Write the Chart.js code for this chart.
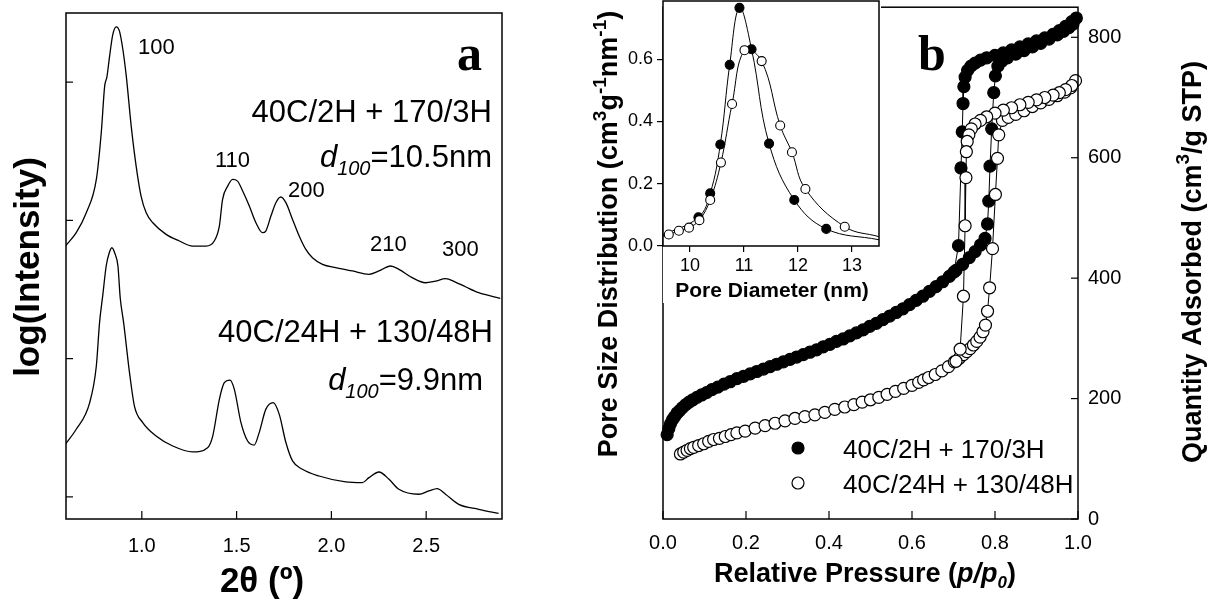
<!DOCTYPE html>
<html>
<head>
<meta charset="utf-8">
<script src="https://cdn.jsdelivr.net/npm/chart.js@4.4.0/dist/chart.umd.min.js"></script>
<style>
  body { margin: 0; background: #fff; width: 1212px; height: 603px; overflow: hidden; position: relative; }
  canvas { position: absolute; top: 0; }
  #xrd { left: 0; }
  #iso { left: 560px; }
  #psd { left: 560px; }
</style>
</head>
<body>
<canvas id="xrd" width="560" height="603"></canvas>
<canvas id="iso" width="652" height="603"></canvas>
<canvas id="psd" width="330" height="310"></canvas>
<script>
// sample names and labels
const sampleNames = ['40C/2H + 170/3H', '40C/24H + 130/48H'];
const dSpacing = ['10.5', '9.9'];
const peakLabels = ['100', '110', '200', '210', '300'];

// panel a: XRD, log(intensity) vs 2theta
const xrdAngle1 = [0.597, 0.654, 0.707, 0.760, 0.786, 0.804, 0.816, 0.830, 0.847, 0.865, 0.882, 0.900, 0.918, 0.944, 0.970, 0.996, 1.023, 1.058, 1.128, 1.198, 1.268, 1.339, 1.382, 1.409, 1.426, 1.453, 1.479, 1.505, 1.532, 1.567, 1.602, 1.637, 1.654, 1.681, 1.707, 1.733, 1.760, 1.795, 1.830, 1.865, 1.900, 1.953, 2.023, 2.111, 2.198, 2.251, 2.312, 2.356, 2.426, 2.496, 2.549, 2.602, 2.654, 2.707, 2.777, 2.891];
const xrdLogI1 = [2.814, 2.911, 3.055, 3.296, 3.634, 3.971, 4.039, 4.188, 4.345, 4.400, 4.369, 4.236, 4.043, 3.682, 3.393, 3.176, 3.055, 2.983, 2.899, 2.851, 2.814, 2.814, 2.851, 2.959, 3.152, 3.248, 3.296, 3.284, 3.212, 3.104, 2.983, 2.911, 2.923, 3.031, 3.128, 3.169, 3.128, 3.007, 2.887, 2.790, 2.730, 2.682, 2.658, 2.634, 2.610, 2.634, 2.670, 2.646, 2.586, 2.549, 2.561, 2.578, 2.554, 2.520, 2.477, 2.436];
const xrdAngle2 = [0.596, 0.654, 0.725, 0.760, 0.777, 0.795, 0.812, 0.827, 0.842, 0.858, 0.874, 0.886, 0.904, 0.935, 0.961, 1.005, 1.075, 1.163, 1.268, 1.347, 1.374, 1.409, 1.435, 1.465, 1.488, 1.523, 1.558, 1.593, 1.619, 1.654, 1.693, 1.725, 1.760, 1.795, 1.847, 1.935, 2.075, 2.163, 2.198, 2.251, 2.304, 2.356, 2.461, 2.514, 2.558, 2.602, 2.672, 2.777, 2.882];
const xrdLogI2 = [1.380, 1.489, 1.682, 1.947, 2.260, 2.470, 2.670, 2.760, 2.802, 2.760, 2.670, 2.440, 2.260, 1.899, 1.657, 1.537, 1.440, 1.368, 1.325, 1.356, 1.440, 1.706, 1.826, 1.845, 1.778, 1.537, 1.404, 1.375, 1.465, 1.633, 1.682, 1.597, 1.393, 1.260, 1.200, 1.151, 1.108, 1.103, 1.139, 1.180, 1.127, 1.055, 1.019, 1.043, 1.060, 1.019, 0.946, 0.910, 0.881];

// panel b: N2 isotherms, adsorption branch then desorption branch
const relP1 = [0.010, 0.014, 0.018, 0.023, 0.028, 0.034, 0.040, 0.047, 0.055, 0.063, 0.072, 0.082, 0.093, 0.105, 0.118, 0.132, 0.147, 0.162, 0.178, 0.194, 0.210, 0.226, 0.242, 0.258, 0.274, 0.290, 0.306, 0.322, 0.338, 0.354, 0.370, 0.386, 0.402, 0.418, 0.434, 0.450, 0.466, 0.482, 0.498, 0.514, 0.530, 0.546, 0.562, 0.578, 0.594, 0.610, 0.626, 0.642, 0.658, 0.674, 0.690, 0.706, 0.722, 0.738, 0.752, 0.765, 0.776, 0.782, 0.785, 0.788, 0.792, 0.797, 0.801, 0.807, 0.816, 0.830, 0.850, 0.870, 0.890, 0.910, 0.930, 0.950, 0.965, 0.978, 0.988, 0.996,
  0.985, 0.970, 0.955, 0.940, 0.920, 0.900, 0.880, 0.860, 0.840, 0.820, 0.800, 0.780, 0.765, 0.752, 0.742, 0.734, 0.728, 0.725, 0.723, 0.721, 0.718, 0.712, 0.701];
const qAds1 = [140, 150, 158, 165, 170, 176, 180, 185, 190, 194, 198, 202, 206, 210, 215, 219, 224, 228, 233, 237, 241, 245, 249, 253, 257, 261, 265, 269, 273, 277, 281, 286, 290, 295, 299, 304, 309, 314, 320, 325, 331, 337, 343, 349, 356, 363, 370, 378, 386, 394, 403, 413, 423, 434, 444, 455, 466, 490, 528, 586, 648, 708, 736, 752, 760, 766, 772, 778, 784, 790, 797, 804, 810, 816, 822, 832,
  826, 818, 811, 805, 799, 794, 789, 784, 779, 774, 770, 766, 762, 757, 752, 745, 734, 718, 690, 643, 583, 454, 410];
const relP2 = [0.042, 0.050, 0.058, 0.066, 0.074, 0.086, 0.098, 0.110, 0.122, 0.136, 0.150, 0.164, 0.178, 0.198, 0.222, 0.246, 0.270, 0.294, 0.318, 0.342, 0.366, 0.390, 0.414, 0.438, 0.460, 0.480, 0.500, 0.520, 0.540, 0.560, 0.580, 0.600, 0.616, 0.628, 0.640, 0.656, 0.672, 0.688, 0.702, 0.714, 0.724, 0.732, 0.740, 0.748, 0.756, 0.764, 0.771, 0.777, 0.782, 0.787, 0.794, 0.801, 0.806, 0.809, 0.818, 0.832, 0.850, 0.870, 0.890, 0.910, 0.930, 0.950, 0.968, 0.982, 0.994,
  0.985, 0.970, 0.955, 0.940, 0.920, 0.900, 0.880, 0.860, 0.840, 0.820, 0.800, 0.780, 0.765, 0.752, 0.743, 0.737, 0.733, 0.731, 0.730, 0.728, 0.724, 0.716, 0.706];
const qAds2 = [108, 111, 114, 117, 119, 122, 125, 129, 132, 134, 137, 140, 143, 146, 151, 155, 159, 163, 167, 170, 173, 177, 182, 186, 190, 194, 198, 202, 207, 212, 217, 222, 227, 231, 235, 240, 246, 253, 261, 267, 273, 278, 283, 289, 295, 302, 311, 322, 345, 384, 449, 539, 599, 638, 662, 667, 672, 678, 685, 691, 697, 703, 709, 716, 728,
  720, 713, 708, 704, 700, 696, 692, 688, 683, 679, 674, 668, 662, 656, 648, 638, 627, 610, 567, 487, 370, 282, 262];

// inset: pore size distribution (first and last values are the fitted curve ends)
const poreD1 = [9.5, 10.156, 10.374, 10.561, 10.735, 10.916, 11.140, 11.464, 11.931, 12.523, 13.5];
const psd1 = [0.035, 0.092, 0.169, 0.326, 0.582, 0.765, 0.632, 0.329, 0.148, 0.055, 0.020];
const poreD2 = [9.5, 9.607, 9.794, 9.981, 10.174, 10.374, 10.573, 10.779, 11.009, 11.327, 11.670, 11.888, 12.137, 12.866, 13.5];
const psd2 = [0.032, 0.037, 0.049, 0.059, 0.083, 0.148, 0.268, 0.456, 0.629, 0.594, 0.387, 0.301, 0.183, 0.062, 0.030];

// tick values
const xrdTicks = [1.0, 1.5, 2.0, 2.5];
const xrdIntensityTicks = [1, 2, 3, 4];
const pressureTicks = [0, 0.2, 0.4, 0.6, 0.8, 1.0];
const quantityTicks = [0, 200, 400, 600, 800];
const poreTicks = [10, 11, 12, 13];
const psdTicks = [0, 0.2, 0.4, 0.6];

const FAM = '"Liberation Sans", Arial, sans-serif';
Chart.defaults.font.family = FAM;
Chart.defaults.color = '#000';

const pts = (xs, ys) => xs.map((x, i) => ({x: x, y: ys[i]}));
const setTicks = vals => s => { s.ticks = vals.map(v => ({value: v})); };
const fixSize = (w, h) => s => {
  if (w != null) s.width = w;
  if (h != null) s.height = h;
  s.paddingLeft = 0; s.paddingRight = 0; s.paddingTop = 0; s.paddingBottom = 0;
};

// draw a line of text made of several runs (for sub/superscripts)
function drawRuns(ctx, runs, x, y, align, angle) {
  ctx.save();
  ctx.translate(x, y);
  if (angle) ctx.rotate(angle);
  let w = 0;
  runs.forEach(r => { ctx.font = r.font; w += ctx.measureText(r.text).width; });
  let cx = align === 'center' ? -w / 2 : (align === 'right' ? -w : 0);
  ctx.fillStyle = '#000';
  ctx.textAlign = 'left';
  ctx.textBaseline = 'alphabetic';
  runs.forEach(r => {
    ctx.font = r.font;
    ctx.fillText(r.text, cx, r.dy || 0);
    cx += ctx.measureText(r.text).width;
  });
  ctx.restore();
}

// box round the plot area and inward tick marks
function framePlugin(id, marks) {
  return {
    id: id,
    afterDraw(chart) {
      const ctx = chart.ctx, a = chart.chartArea;
      ctx.save();
      ctx.strokeStyle = '#000';
      ctx.lineWidth = 1.5;
      ctx.strokeRect(a.left, a.top, a.right - a.left, a.bottom - a.top);
      ctx.lineWidth = 1.2;
      marks.forEach(m => {
        const s = chart.scales[m.axis];
        s.ticks.forEach(t => {
          const p = s.getPixelForValue(t.value);
          ctx.beginPath();
          if (m.side === 'bottom') { ctx.moveTo(p, a.bottom); ctx.lineTo(p, a.bottom - m.len); }
          if (m.side === 'left') { ctx.moveTo(a.left, p); ctx.lineTo(a.left + m.len, p); }
          if (m.side === 'right') { ctx.moveTo(a.right, p); ctx.lineTo(a.right - m.len, p); }
          ctx.stroke();
        });
      });
      ctx.restore();
    }
  };
}

const f = (size, style) => (style ? style + ' ' : '') + size + 'px ' + FAM;
const serif = 'bold 50px "Liberation Serif", "Times New Roman", serif';

// ---------- panel a ----------
const xrdText = {
  id: 'xrdText',
  afterDraw(chart) {
    const ctx = chart.ctx;
    drawRuns(ctx, [{text: peakLabels[0], font: f(22)}], 138, 54, 'left');
    drawRuns(ctx, [{text: peakLabels[1], font: f(22)}], 215, 167, 'left');
    drawRuns(ctx, [{text: peakLabels[2], font: f(22)}], 288, 197, 'left');
    drawRuns(ctx, [{text: peakLabels[3], font: f(22)}], 370, 251, 'left');
    drawRuns(ctx, [{text: peakLabels[4], font: f(22)}], 442, 256, 'left');
    drawRuns(ctx, [{text: 'a', font: serif}], 457, 70, 'left');
    drawRuns(ctx, [{text: sampleNames[0], font: f(31)}], 492, 122, 'right');
    drawRuns(ctx, [{text: 'd', font: f(31, 'italic')}, {text: '100', font: f(20, 'italic'), dy: 8},
      {text: '=' + dSpacing[0] + 'nm', font: f(31)}], 492, 167, 'right');
    drawRuns(ctx, [{text: sampleNames[1], font: f(31)}], 493, 342, 'right');
    drawRuns(ctx, [{text: 'd', font: f(31, 'italic')}, {text: '100', font: f(20, 'italic'), dy: 8},
      {text: '=' + dSpacing[1] + 'nm', font: f(31)}], 483, 390, 'right');
    drawRuns(ctx, [{text: '2θ (º)', font: f(35, 'bold')}], 262, 592, 'center');
    drawRuns(ctx, [{text: 'log(Intensity)', font: f(35, 'bold')}], 39, 267, 'center', -Math.PI / 2);
  }
};

new Chart(document.getElementById('xrd'), {
  type: 'line',
  data: {
    datasets: [
      {label: sampleNames[0], data: pts(xrdAngle1, xrdLogI1)},
      {label: sampleNames[1], data: pts(xrdAngle2, xrdLogI2)}
    ]
  },
  options: {
    responsive: false, animation: false, events: [],
    layout: {padding: {left: 0, right: 58, top: 13, bottom: 0}},
    elements: {
      point: {radius: 0},
      line: {borderColor: '#000', borderWidth: 1.3, cubicInterpolationMode: 'monotone'}
    },
    plugins: {legend: {display: false}, tooltip: {enabled: false}},
    scales: {
      x: {
        type: 'linear', min: 0.6, max: 2.9,
        afterBuildTicks: setTicks(xrdTicks), afterFit: fixSize(null, 84),
        grid: {display: false, drawTicks: false}, border: {display: false},
        ticks: {font: {size: 20}, padding: 15, callback: v => v.toFixed(1)}
      },
      y: {
        type: 'linear', min: 0.84, max: 4.5,
        afterBuildTicks: setTicks(xrdIntensityTicks), afterFit: fixSize(66, null),
        grid: {display: false, drawTicks: false}, border: {display: false},
        ticks: {display: false}
      }
    }
  },
  plugins: [framePlugin('xrdFrame', [{axis: 'x', side: 'bottom', len: 8}, {axis: 'y', side: 'left', len: 7}]), xrdText]
});

// ---------- panel b ----------
const isoText = {
  id: 'isoText',
  afterDraw(chart) {
    const ctx = chart.ctx;
    drawRuns(ctx, [{text: 'b', font: serif}], 358, 70, 'left');
    // legend
    const rows = [{y: 448, fill: '#000'}, {y: 483, fill: '#fff'}];
    rows.forEach((r, i) => {
      ctx.save();
      ctx.beginPath();
      ctx.arc(238, r.y, 6, 0, Math.PI * 2);
      ctx.fillStyle = r.fill; ctx.fill();
      ctx.lineWidth = 1.2; ctx.strokeStyle = '#000'; ctx.stroke();
      ctx.restore();
      drawRuns(ctx, [{text: sampleNames[i], font: f(26)}], 283, r.y + 10, 'left');
    });
    drawRuns(ctx, [{text: 'Relative Pressure (', font: f(27, 'bold')}, {text: 'p/p', font: f(27, 'italic bold')},
      {text: '0', font: f(17, 'italic bold'), dy: 6}, {text: ')', font: f(27, 'bold')}], 305, 582, 'center');
    drawRuns(ctx, [{text: 'Pore Size Distribution (cm', font: f(27, 'bold')}, {text: '3', font: f(19, 'bold'), dy: -11},
      {text: 'g', font: f(27, 'bold')}, {text: '-1', font: f(19, 'bold'), dy: -11},
      {text: 'nm', font: f(27, 'bold')}, {text: '-1', font: f(19, 'bold'), dy: -11},
      {text: ')', font: f(27, 'bold')}], 57, 234, 'center', -Math.PI / 2);
    drawRuns(ctx, [{text: 'Quantity Adsorbed (cm', font: f(27, 'bold')}, {text: '3', font: f(19, 'bold'), dy: -12},
      {text: '/g STP)', font: f(27, 'bold')}], 641, 262, 'center', -Math.PI / 2);
  }
};

new Chart(document.getElementById('iso'), {
  type: 'line',
  data: {
    datasets: [
      {label: sampleNames[0], data: pts(relP1, qAds1), order: 2,
        pointBackgroundColor: '#000', pointBorderColor: '#000'},
      {label: sampleNames[1], data: pts(relP2, qAds2), order: 1,
        pointBackgroundColor: '#fff', pointBorderColor: '#000'}
    ]
  },
  options: {
    responsive: false, animation: false, events: [],
    layout: {padding: {left: 103, right: 0, top: 1, bottom: 0}},
    elements: {
      point: {radius: 6, borderWidth: 1.2},
      line: {borderColor: '#000', borderWidth: 1, tension: 0}
    },
    datasets: {line: {clip: false}},
    plugins: {legend: {display: false}, tooltip: {enabled: false}},
    scales: {
      x: {
        type: 'linear', min: 0, max: 1,
        afterBuildTicks: setTicks(pressureTicks), afterFit: fixSize(null, 84),
        grid: {display: false, drawTicks: false}, border: {display: false},
        ticks: {font: {size: 20}, padding: 12, callback: v => v.toFixed(1)}
      },
      y: {
        type: 'linear', position: 'right', min: 0, max: 850,
        afterBuildTicks: setTicks(quantityTicks), afterFit: fixSize(134, null),
        grid: {display: false, drawTicks: false}, border: {display: false},
        ticks: {font: {size: 20}, padding: 10}
      }
    }
  },
  plugins: [framePlugin('isoFrame', [{axis: 'x', side: 'bottom', len: 8}, {axis: 'y', side: 'right', len: 7}]), isoText]
});

// ---------- inset ----------
const psdBack = {
  id: 'psdBack',
  beforeDraw(chart) {
    const a = chart.chartArea, ctx = chart.ctx;
    ctx.save();
    ctx.fillStyle = '#fff';
    ctx.fillRect(a.left, 0, a.right - a.left + 2, 303);
    ctx.restore();
  },
  afterDraw(chart) {
    const a = chart.chartArea, ctx = chart.ctx;
    ctx.save();
    ctx.strokeStyle = '#000'; ctx.lineWidth = 1.5;
    ctx.strokeRect(a.left, a.top, a.right - a.left, a.bottom - a.top);
    ctx.restore();
    drawRuns(ctx, [{text: 'Pore Diameter (nm)', font: f(21, 'bold')}], 212, 297, 'center');
  }
};
const edgeRadius = c => (c.dataIndex === 0 || c.dataIndex === c.dataset.data.length - 1) ? 0 : 4.5;

new Chart(document.getElementById('psd'), {
  type: 'line',
  data: {
    datasets: [
      {label: sampleNames[0], data: pts(poreD1, psd1), order: 2,
        pointBackgroundColor: '#000', pointBorderColor: '#000'},
      {label: sampleNames[1], data: pts(poreD2, psd2), order: 1,
        pointBackgroundColor: '#fff', pointBorderColor: '#000'}
    ]
  },
  options: {
    responsive: false, animation: false, events: [],
    layout: {padding: {left: 0, right: 11, top: 1, bottom: 0}},
    elements: {
      point: {radius: edgeRadius, borderWidth: 1.1},
      line: {borderColor: '#000', borderWidth: 1, tension: 0.4}
    },
    plugins: {legend: {display: false}, tooltip: {enabled: false}},
    scales: {
      x: {
        type: 'linear', min: 9.5, max: 13.5,
        afterBuildTicks: setTicks(poreTicks), afterFit: fixSize(null, 64),
        grid: {display: true, drawOnChartArea: false, drawTicks: true, tickLength: 6, color: '#000', lineWidth: 1.2},
        border: {display: false},
        ticks: {font: {size: 18}, padding: 3, callback: v => String(v)}
      },
      y: {
        type: 'linear', min: 0, max: 0.787,
        afterBuildTicks: setTicks(psdTicks), afterFit: fixSize(103, null),
        grid: {display: true, drawOnChartArea: false, drawTicks: true, tickLength: 6, color: '#000', lineWidth: 1.2},
        border: {display: false},
        ticks: {font: {size: 18}, padding: 4, callback: v => v.toFixed(1)}
      }
    }
  },
  plugins: [psdBack]
});
</script>
</body>
</html>
